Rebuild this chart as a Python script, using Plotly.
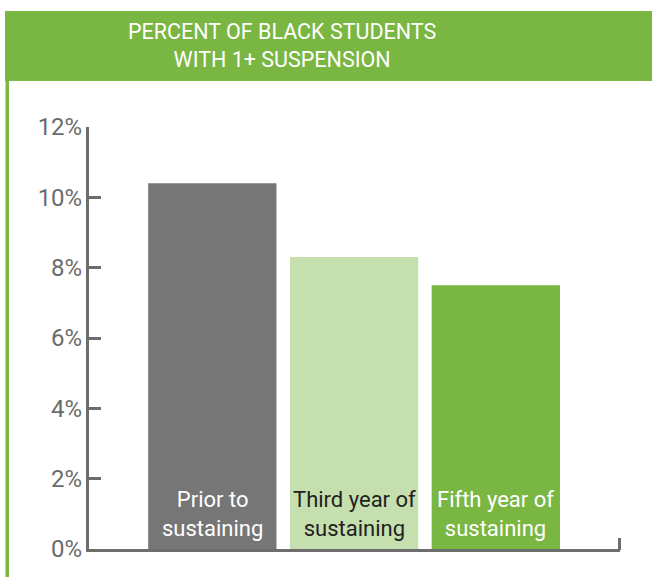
import plotly.graph_objects as go

categories = ["Prior to sustaining", "Third year of sustaining", "Fifth year of sustaining"]
bar_labels = ["Prior to<br>sustaining", "Third year of<br>sustaining", "Fifth year of<br>sustaining"]
values = [10.4, 8.3, 7.5]
bar_colors = ["#767676", "#c6dfae", "#7ab642"]
label_colors = ["#ffffff", "#222222", "#ffffff"]
tick_vals = [0, 2, 4, 6, 8, 10, 12]
tick_text = ["0%", "2%", "4%", "6%", "8%", "10%", "12%"]
title_text = "PERCENT OF BLACK STUDENTS<br>WITH 1+ SUSPENSION"

W, H = 652, 577
L, R, T, B = 89, 32, 127, 28
pw, ph = W - L - R, H - T - B

def px(x):
    return (x - L) / pw

def py(y):
    return (H - B - y) / ph

xs = list(range(len(values)))
fig = go.Figure(go.Bar(x=xs, y=values, marker=dict(color=bar_colors, line=dict(width=0)),
                       width=0.905, hoverinfo="skip"))

annotations = []
for i, lab in enumerate(bar_labels):
    annotations.append(dict(x=xs[i], y=0, xref="x", yref="y", text=lab, showarrow=False,
                            yanchor="bottom", xanchor="center", borderpad=0, yshift=7,
                            font=dict(family="Roboto", size=22, color=label_colors[i])))

annotations.append(dict(x=px(282), y=py(45), xref="paper", yref="paper", text=title_text,
                        showarrow=False, xanchor="center", yanchor="middle",
                        font=dict(family="Roboto", size=21.5, color="#ffffff")))

shapes = [
    dict(type="rect", xref="paper", yref="paper", x0=px(5), x1=px(652), y0=py(81), y1=py(11),
         fillcolor="#7ab642", line=dict(width=0), layer="below"),
    dict(type="rect", xref="paper", yref="paper", x0=px(5.5), x1=px(9), y0=py(577), y1=py(81),
         fillcolor="#7ab642", line=dict(width=0), layer="below"),
    dict(type="line", xref="paper", yref="paper", x0=px(619.5), x1=px(619.5), y0=py(550), y1=py(538),
         line=dict(color="#6d6d6d", width=3)),
]

fig.update_layout(
    width=W, height=H,
    margin=dict(l=L, r=R, t=T, b=B, pad=0),
    paper_bgcolor="#ffffff", plot_bgcolor="#ffffff",
    showlegend=False,
    annotations=annotations,
    shapes=shapes,
    xaxis=dict(range=[-0.87, 2.876], showticklabels=False, ticks="", showgrid=False, zeroline=False,
               showline=True, linecolor="#6d6d6d", linewidth=3, fixedrange=True),
    yaxis=dict(range=[0, 12], tickvals=tick_vals, ticktext=tick_text, ticks="inside", ticklen=12,
               tickwidth=3, tickcolor="#6d6d6d", showgrid=False, zeroline=False, showline=True,
               linecolor="#6d6d6d", linewidth=3, ticklabelstandoff=-1,
               tickfont=dict(family="Roboto", size=24, color="#6b6b6b"), fixedrange=True),
)

fig.write_html("out.html", config={"displayModeBar": False})
